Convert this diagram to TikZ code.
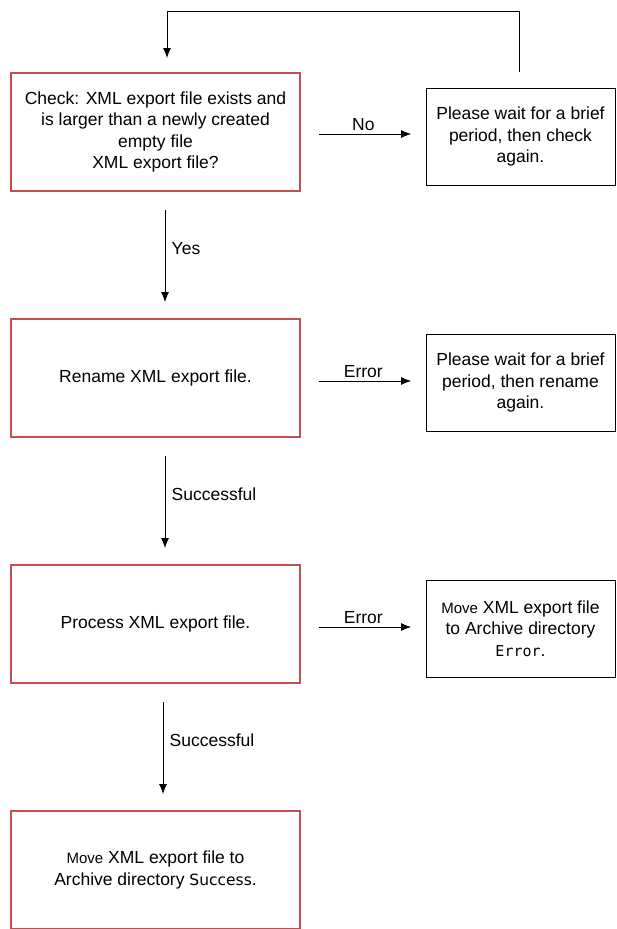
\documentclass[tikz,border=0pt]{standalone}
\usepackage{fontspec}
\setmainfont{Liberation Sans}
\newfontfamily\monofont{DejaVu Sans Mono}
\newfontfamily\widefont{DejaVu Sans}
\usetikzlibrary{arrows.meta}
\definecolor{boxred}{RGB}{192,80,77}
\begin{document}
\begin{tikzpicture}[x=1pt,y=1pt,>={Latex[length=10pt,width=8pt]},font=\fontsize{17.5}{21.5}\selectfont]
      \tikzset{mainbox/.style={draw=boxred, line width=2pt, minimum width=289pt, minimum height=118pt, align=center},
        sidebox/.style={draw, line width=0.8pt, minimum width=189pt, minimum height=97pt, align=center},
        flow/.style={->, line width=0.8pt},
        hflow/.style={flow, shorten <=18pt, shorten >=14.5pt},
        vflow/.style={flow, shorten <=18pt, shorten >=16pt}}
      \useasboundingbox (0,0) rectangle (616,-929);
      \node[mainbox] (chk) at (155.5,-132) {Check: XML export file exists and\\is larger than a newly created\\empty file\\XML export file?};
      \node[sidebox] (wait) at (520.5,-136.5) {Please wait for a brief\\period, then check\\again.};
      \node[mainbox] (ren) at (155.5,-378) {Rename XML export file.};
      \node[sidebox] (waitren) at (520.5,-382.5) {Please wait for a brief\\period, then rename\\again.};
      \node[mainbox] (proc) at (155.5,-624) {Process XML export file.};
      \node[sidebox] (err) at (520.5,-628.5) {{\fontsize{15}{21.5}\selectfont Move} XML export file\\to Archive directory\\{\monofont\fontsize{15}{21.5}\selectfont Error}.};
      \node[mainbox] (done) at (155.5,-870) {{\fontsize{15}{21.5}\selectfont Move} XML export file to\\Archive directory {\widefont\fontsize{15.5}{21.5}\selectfont Success}.};
      \coordinate (top) at (167,-11);
      \draw[hflow] ([yshift=-2pt]chk.east) -- node[above] {No} ([yshift=2.5pt]wait.west);
      \draw[hflow] ([yshift=-3pt]ren.east) -- node[above] {Error} ([yshift=1.5pt]waitren.west);
      \draw[hflow] ([yshift=-3pt]proc.east) -- node[above] {Error} ([yshift=1.5pt]err.west);
      \draw[vflow] ([xshift=9.5pt]chk.south) -- node[pos=0.45, right=3pt] {Yes} ([xshift=9.5pt]ren.north);
      \draw[vflow] ([xshift=9.5pt]ren.south) -- node[pos=0.45, right=3pt] {Successful} ([xshift=9.5pt]proc.north);
      \draw[vflow] ([xshift=7.5pt]proc.south) -- node[pos=0.45, right=3pt] {Successful} ([xshift=7.5pt]done.north);
      \draw[flow, shorten <=15.5pt, shorten >=14pt] ([xshift=-1.5pt]wait.north) |- (top) -| ([xshift=11.5pt]chk.north);
    \end{tikzpicture}
\end{document}
